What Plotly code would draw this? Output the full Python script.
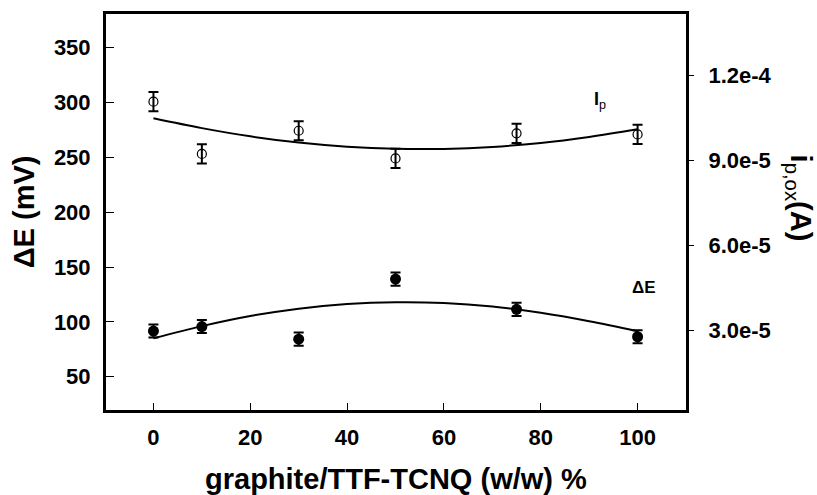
import plotly.graph_objects as go

# ---- data ----
x_pts = [0, 10, 30, 50, 75, 100]
dE_vals = [91.6, 95.7, 84.2, 139.0, 111.4, 86.4]          # mV, left axis
dE_err = [6, 6, 6, 6, 6, 6]
ip_vals = [1.1077e-4, 9.23e-5, 1.005e-4, 9.07e-5, 9.96e-5, 9.92e-5]  # A, right axis
ip_err = [3.4e-6, 3.4e-6, 3.4e-6, 3.4e-6, 3.4e-6, 3.4e-6]

fit_x = [0, 10, 20, 30, 40, 50, 60, 70, 80, 90, 100]
dE_fit = [85.0, 96.1, 105.3, 112.0, 116.2, 117.9, 117.2, 114.0, 108.3, 100.6, 91.5]
ip_fit = [1.049e-4, 1.0142e-4, 9.851e-5, 9.632e-5, 9.485e-5, 9.41e-5,
          9.408e-5, 9.477e-5, 9.618e-5, 9.831e-5, 1.010e-4]

x_ticks = [0, 20, 40, 60, 80, 100]
y_ticks = [50, 100, 150, 200, 250, 300, 350]
y2_ticks = [3.0e-5, 6.0e-5, 9.0e-5, 1.2e-4]
y2_ticktext = ["3.0e-5", "6.0e-5", "9.0e-5", "1.2e-4"]

FONT = "Liberation Sans, Arial, Helvetica, sans-serif"

fig = go.Figure()

fig.add_trace(go.Scatter(x=fit_x, y=ip_fit, mode="lines", yaxis="y2",
                         line=dict(color="black", width=2, shape="spline"),
                         showlegend=False, hoverinfo="skip"))
fig.add_trace(go.Scatter(x=fit_x, y=dE_fit, mode="lines",
                         line=dict(color="black", width=2, shape="spline"),
                         showlegend=False, hoverinfo="skip"))

fig.add_trace(go.Scatter(x=x_pts, y=ip_vals, mode="markers", yaxis="y2",
                         marker=dict(symbol="circle-open", size=9, color="black",
                                     line=dict(width=1.2, color="black")),
                         error_y=dict(type="data", array=ip_err, visible=True,
                                      color="black", thickness=2, width=5),
                         showlegend=False))
fig.add_trace(go.Scatter(x=x_pts, y=dE_vals, mode="markers",
                         marker=dict(symbol="circle", size=11, color="black"),
                         error_y=dict(type="data", array=dE_err, visible=True,
                                      color="black", thickness=2, width=5),
                         showlegend=False))

tickfont = dict(family=FONT, size=22, color="black", weight="bold")

fig.update_layout(
    width=817, height=495,
    margin=dict(l=106, r=131, t=14, b=85),
    paper_bgcolor="white", plot_bgcolor="white",
    font=dict(family=FONT, color="black"),
    xaxis=dict(range=[-9.8, 110], tickvals=x_ticks, ticks="inside", ticklen=7,
               tickwidth=1, tickcolor="black", showline=True, linewidth=3,
               linecolor="black", mirror=True, showgrid=False, zeroline=False,
               tickfont=tickfont, ticklabelstandoff=6),
    yaxis=dict(range=[19.6, 380.7], tickvals=y_ticks, ticks="inside", ticklen=8,
               tickwidth=1, tickcolor="black", showline=True, linewidth=3,
               linecolor="black", showgrid=False, zeroline=False,
               tickfont=tickfont, ticklabelstandoff=8),
    yaxis2=dict(range=[1.7e-6, 1.418e-4], tickvals=y2_ticks, ticktext=y2_ticktext,
                overlaying="y", side="right", ticks="outside", ticklen=5,
                tickwidth=1, tickcolor="black", showline=True, linewidth=3,
                linecolor="black", showgrid=False, zeroline=False,
                tickfont=tickfont, ticklabelstandoff=10),
)

fig.add_annotation(text="<b>graphite/TTF-TCNQ (w/w) %</b>", xref="paper", yref="paper",
                   x=0.5, y=-0.175, xanchor="center", yanchor="middle", showarrow=False,
                   font=dict(family=FONT, size=29, color="black"))
fig.add_annotation(text="<b>ΔE (mV)</b>", xref="paper", yref="paper",
                   x=-0.141, y=0.5, xanchor="center", yanchor="middle", textangle=-90,
                   showarrow=False, font=dict(family=FONT, size=29, color="black"))
fig.add_annotation(text="<b>i</b><sub>p,ox</sub><b>(A)</b>", xref="paper", yref="paper",
                   x=1.194, y=0.535, xanchor="center", yanchor="middle", textangle=90,
                   showarrow=False, font=dict(family=FONT, size=29, color="black"))
fig.add_annotation(text="<b>I</b><sub>p</sub>", xref="x", yref="y",
                   x=90.5, y=302, xanchor="left", yanchor="middle", showarrow=False,
                   font=dict(family=FONT, size=18, color="black"))
fig.add_annotation(text="<b>ΔE</b>", xref="x", yref="y",
                   x=101.4, y=131.5, xanchor="center", yanchor="middle", showarrow=False,
                   font=dict(family=FONT, size=17, color="black"))

fig.write_html("out.html", config={"displayModeBar": False},
               post_script="document.body.style.margin='0px';document.body.style.padding='0px';")
